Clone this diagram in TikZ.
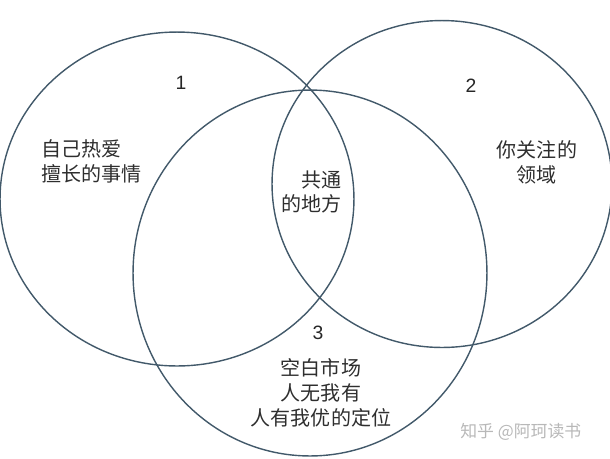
\documentclass[tikz,border=0pt]{standalone}
\usepackage{xcolor}
\usepackage{fontspec}
\setmainfont{Noto Sans CJK SC}
\newfontfamily\digitfont{Liberation Sans}
\usepackage{tikz}
\usetikzlibrary{positioning,shapes.geometric}

\definecolor{ringcol}{HTML}{42596A}
\definecolor{textcol}{HTML}{2E2E2E}

\begin{document}
\begin{tikzpicture}[
    x=0.02cm, y=-0.02cm,
    ring/.style={ellipse, draw=ringcol, line width=0.8pt, inner sep=0pt},
    tag/.style={inner sep=0pt, text=textcol, font=\fontsize{11.4}{14.2}\selectfont},
    num/.style={inner sep=0pt, text=black!85, font=\digitfont\fontsize{11}{12}\selectfont},
    wmtext/.style={inner sep=0pt, text=black!28, font=\fontsize{9.6}{11}\selectfont}
]
    % Canvas
    \useasboundingbox (0,0) rectangle (610,458);

    % Three circles
    \node[ring, minimum width=7.08cm, minimum height=6.68cm] (ring1) at (177,199) {};
    \node[ring, minimum width=6.8cm, minimum height=6.54cm] (ring2) at (442,184) {};
    \node[ring, minimum width=7.08cm, minimum height=7.32cm] (ring3) at (310,273) {};

    % Numbers
    \node[num] (n1) at (181,83) {1};
    \node[num] (n2) at (471,86) {2};
    \node[num] (n3) at (318,333) {3};

    % Texts
    \node[tag, align=left, anchor=west] (t1) at (41,161) {自己热爱\\擅长的事情};
    \node[tag, align=center] (t2) at (537,162) {你关注的\\领域};
    \node[tag, align=right, anchor=east] (tmid) at (342,192) {共通\\的地方};
    \node[tag, align=center] (t3) at (321,393) {空白市场\\人无我有\\人有我优的定位};

    % Watermark
    \node[wmtext, anchor=west] (wm) at (460,432) {知乎 @阿珂读书};
\end{tikzpicture}
\end{document}
